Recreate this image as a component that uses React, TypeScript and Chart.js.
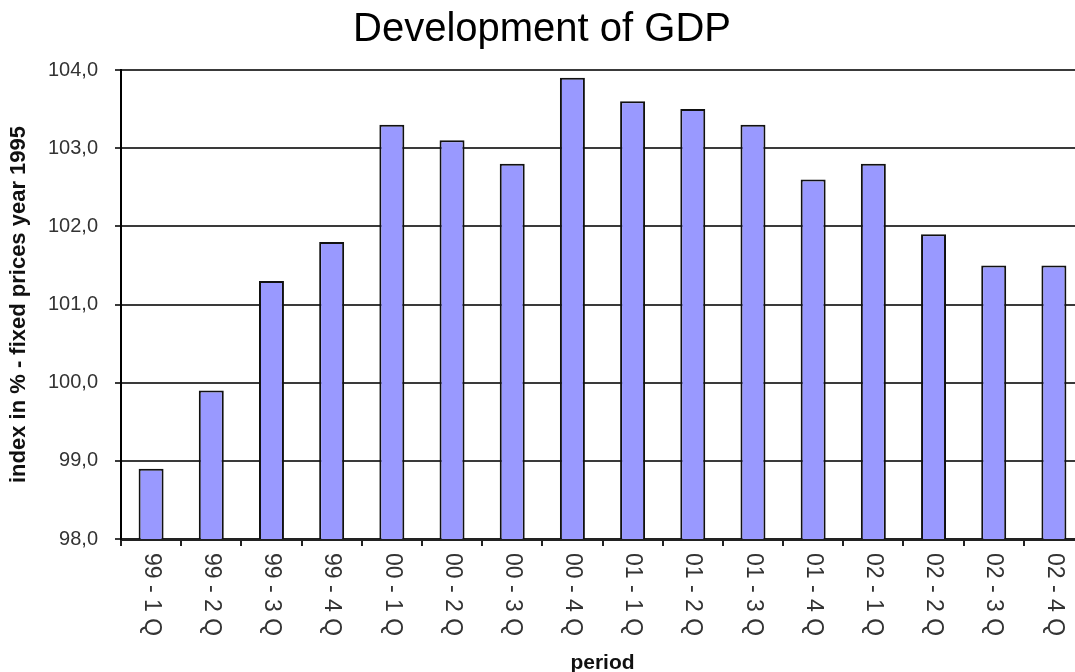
import React, { useEffect, useRef } from "react";
import { Chart, registerables } from "chart.js";

Chart.register(...registerables);

const periods: string[] = [
  "99 - 1 Q", "99 - 2 Q", "99 - 3 Q", "99 - 4 Q",
  "00 - 1 Q", "00 - 2 Q", "00 - 3 Q", "00 - 4 Q",
  "01 - 1 Q", "01 - 2 Q", "01 - 3 Q", "01 - 4 Q",
  "02 - 1 Q", "02 - 2 Q", "02 - 3 Q", "02 - 4 Q",
];

const gdpIndex: number[] = [
  98.9, 99.9, 101.3, 101.8,
  103.3, 103.1, 102.8, 103.9,
  103.6, 103.5, 103.3, 102.6,
  102.8, 101.9, 101.5, 101.5,
];

const yMin = 98;
const yMax = 104;
const yStep = 1;

const chartTitle = "Development of GDP";
const yTitle = "index in % - fixed prices year 1995";
const xTitle = "period";

const FONT = '"Liberation Sans", Arial, sans-serif';

const rotatedLabels = {
  id: "rotatedLabels",
  afterDraw(chart: any) {
    const xs = chart.scales.x;
    const ctx = chart.ctx;
    ctx.save();
    ctx.font = `23px ${FONT}`;
    ctx.fillStyle = "#333";
    ctx.textAlign = "left";
    ctx.textBaseline = "middle";
    periods.forEach((lab, i) => {
      const x = xs.getPixelForValue(i);
      ctx.save();
      ctx.translate(x, xs.top + 14);
      ctx.rotate(Math.PI / 2);
      ctx.fillText(lab, 0, 0);
      ctx.restore();
    });
    ctx.restore();
  },
};

export default function App() {
  const ref = useRef<HTMLCanvasElement | null>(null);

  useEffect(() => {
    if (!ref.current) return;
    const chart = new Chart(ref.current, {
      type: "bar",
      data: {
        labels: periods,
        datasets: [
          {
            data: gdpIndex,
            backgroundColor: "#9999ff",
            borderColor: "#111",
            borderWidth: 2,
            barPercentage: 0.415,
            categoryPercentage: 1,
          },
        ],
      },
      options: {
        animation: false,
        responsive: false,
        layout: { padding: { left: 0, top: 0, bottom: 0, right: 0 } },
        plugins: {
          legend: { display: false },
          tooltip: { enabled: false },
          title: {
            display: true,
            text: chartTitle,
            color: "#000",
            font: { family: FONT, size: 40, weight: "normal", lineHeight: 1.2 },
            padding: { top: 6, bottom: 16 },
          },
        },
        scales: {
          x: {
            type: "category",
            offset: true,
            afterFit: (s: any) => {
              s.height = 133;
            },
            grid: {
              offset: true,
              drawOnChartArea: false,
              drawTicks: true,
              tickLength: 7,
              color: "#222",
              lineWidth: 2,
            },
            border: { color: "#222", width: 3 },
            ticks: { display: false },
            title: {
              display: true,
              text: xTitle,
              color: "#111",
              font: { family: FONT, size: 21, weight: "bold", lineHeight: 1 },
              padding: { top: 0, bottom: -2 },
            },
          },
          y: {
            min: yMin,
            max: yMax,
            afterFit: (s: any) => {
              s.width = 121;
            },
            grid: {
              color: "#3a3a3a",
              lineWidth: 2,
              tickLength: 6,
              drawTicks: true,
            },
            border: { color: "#000", width: 2 },
            ticks: {
              stepSize: yStep,
              padding: 17,
              color: "#333",
              font: { family: FONT, size: 20 },
              callback: (v: any) => Number(v).toFixed(1).replace(".", ","),
            },
            title: {
              display: true,
              text: yTitle,
              color: "#111",
              font: { family: FONT, size: 22, weight: "bold", lineHeight: 1.2 },
              padding: { top: 6, bottom: 0 },
            },
          },
        },
      },
      plugins: [rotatedLabels],
    });
    return () => chart.destroy();
  }, []);

  return (
    <div
      style={{
        position: "fixed",
        left: 0,
        top: 0,
        width: 1075,
        height: 672,
        overflow: "hidden",
        background: "#fff",
      }}
    >
      <canvas ref={ref} width={1084} height={672} style={{ display: "block" }} />
    </div>
  );
}
